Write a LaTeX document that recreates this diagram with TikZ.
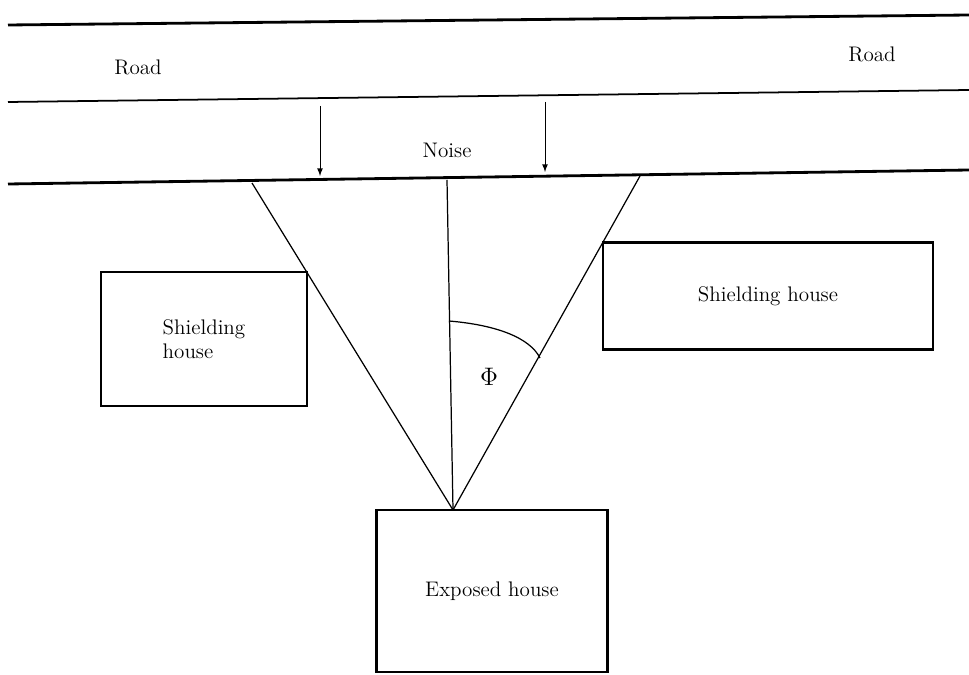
\documentclass[tikz,border=0pt]{standalone}
\usetikzlibrary{arrows}
\begin{document}
\begin{tikzpicture}
    [
        x=0.02cm, y=-0.02cm,
        road/.style={line width=1.6pt,},
        house/.style={rectangle, draw, line width=1.6pt, font=\large, align=left, inner sep=0pt,},
        label/.style={font=\large,},
        ray/.style={line width=0.7pt,},
        noise/.style={-latex, line width=0.5pt,},
    ]
    \useasboundingbox (0,0) rectangle (969,675);

    % road
    \coordinate (r1a) at (8,25);
    \coordinate (r1b) at (969,15);
    \coordinate (r2a) at (8,102);
    \coordinate (r2b) at (969,90);
    \coordinate (r3a) at (8,184);
    \coordinate (r3b) at (969,170);
    \draw [road] (r1a) -- (r1b);
    \draw [road, line width=1pt] (r2a) -- (r2b);
    \draw [road] (r3a) -- (r3b);

    \node (roadL) at (138,67) [label] {Road};
    \node (roadR) at (872,54) [label] {Road};
    \node (noise) at (447,150) [label] {Noise};

    % noise arrows
    \coordinate (n1a) at (320,106);
    \coordinate (n1b) at (320,176);
    \coordinate (n2a) at (545,102);
    \coordinate (n2b) at (545,172);
    \draw [noise] (n1a) -- (n1b);
    \draw [noise] (n2a) -- (n2b);

    % houses
    \node (shieldL) at (204,339) [house, minimum width=4.12cm, minimum height=2.68cm] {Shielding\\house};
    \node (shieldR) at (768,296) [house, minimum width=6.6cm, minimum height=2.14cm] {Shielding house};
    \node (exposed) at (492,591) [house, minimum width=4.62cm, minimum height=3.24cm] {Exposed house};

    % view angle
    \coordinate (apex) at (453,510);
    \coordinate (edgeL) at (252,183);
    \coordinate (edgeM) at (447,180);
    \coordinate (edgeR) at (640,176);
    \draw [ray] (apex) -- (edgeL);
    \draw [ray] (apex) -- (edgeM);
    \draw [ray] (apex) -- (edgeR);

    \coordinate (phiA) at (449,321);
    \coordinate (phiB) at (540,358);
    \draw [ray] (phiA) .. controls (497,325) and (530,338) .. (phiB);
    \node (phi) at (489,377) [label, font=\Large] {$\Phi$};

\end{tikzpicture}
\end{document}
